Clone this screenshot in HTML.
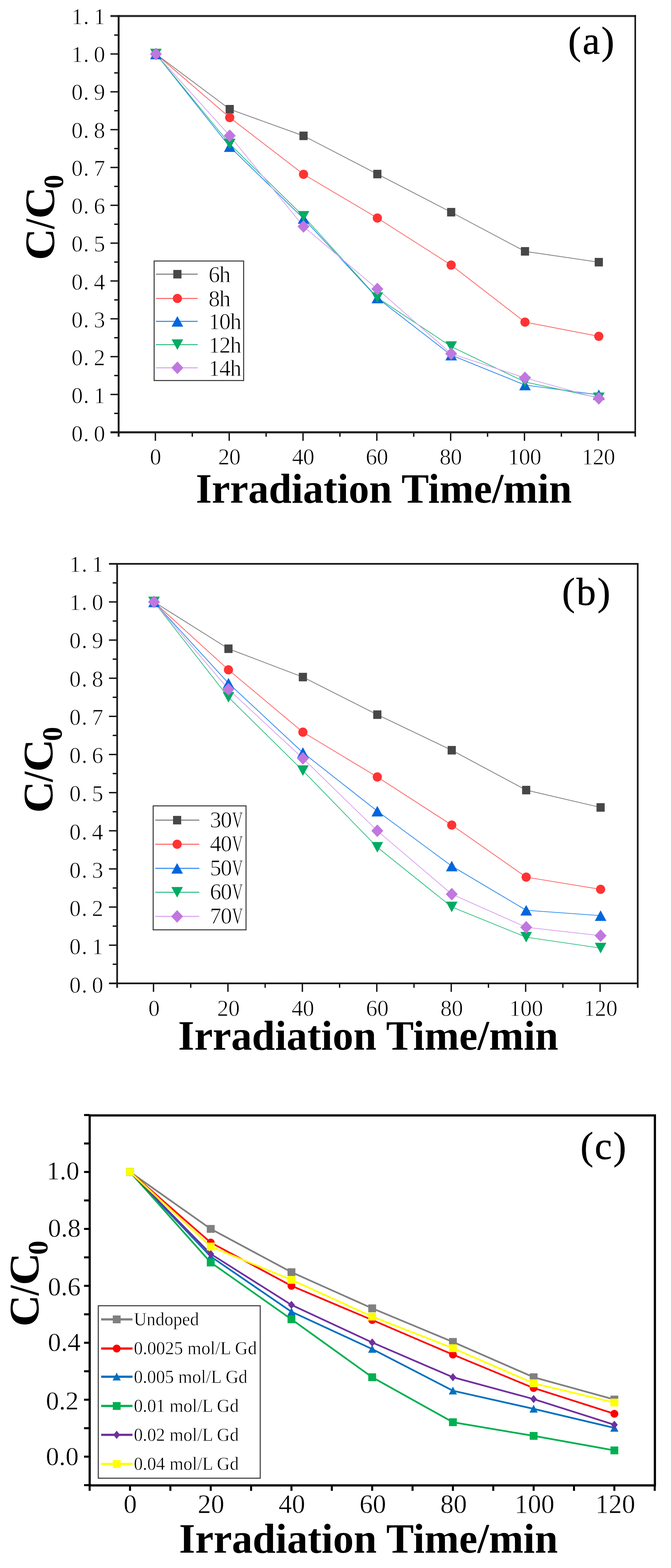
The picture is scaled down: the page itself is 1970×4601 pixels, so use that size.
<!DOCTYPE html>
<html><head><meta charset="utf-8"><title>Figure</title>
<style>html,body{margin:0;padding:0;background:#fff;}svg{display:block;}</style>
</head><body>
<svg width="1970" height="4601" viewBox="0 0 1970 4601" font-family="'Liberation Serif', 'Times New Roman', serif">
<rect width="1970" height="4601" fill="#fff"/>
<line x1="324.3" y1="1157.49" x2="348.3" y2="1157.49" stroke="#111" stroke-width="4"/>
<line x1="324.3" y1="1046.48" x2="348.3" y2="1046.48" stroke="#111" stroke-width="4"/>
<line x1="324.3" y1="935.47" x2="348.3" y2="935.47" stroke="#111" stroke-width="4"/>
<line x1="324.3" y1="824.46" x2="348.3" y2="824.46" stroke="#111" stroke-width="4"/>
<line x1="324.3" y1="713.45" x2="348.3" y2="713.45" stroke="#111" stroke-width="4"/>
<line x1="324.3" y1="602.44" x2="348.3" y2="602.44" stroke="#111" stroke-width="4"/>
<line x1="324.3" y1="491.43" x2="348.3" y2="491.43" stroke="#111" stroke-width="4"/>
<line x1="324.3" y1="380.42" x2="348.3" y2="380.42" stroke="#111" stroke-width="4"/>
<line x1="324.3" y1="269.41" x2="348.3" y2="269.41" stroke="#111" stroke-width="4"/>
<line x1="324.3" y1="158.4" x2="348.3" y2="158.4" stroke="#111" stroke-width="4"/>
<line x1="335.3" y1="1212.99" x2="348.3" y2="1212.99" stroke="#111" stroke-width="4"/>
<line x1="335.3" y1="1101.98" x2="348.3" y2="1101.98" stroke="#111" stroke-width="4"/>
<line x1="335.3" y1="990.98" x2="348.3" y2="990.98" stroke="#111" stroke-width="4"/>
<line x1="335.3" y1="879.97" x2="348.3" y2="879.97" stroke="#111" stroke-width="4"/>
<line x1="335.3" y1="768.96" x2="348.3" y2="768.96" stroke="#111" stroke-width="4"/>
<line x1="335.3" y1="657.95" x2="348.3" y2="657.95" stroke="#111" stroke-width="4"/>
<line x1="335.3" y1="546.94" x2="348.3" y2="546.94" stroke="#111" stroke-width="4"/>
<line x1="335.3" y1="435.93" x2="348.3" y2="435.93" stroke="#111" stroke-width="4"/>
<line x1="335.3" y1="324.91" x2="348.3" y2="324.91" stroke="#111" stroke-width="4"/>
<line x1="335.3" y1="213.9" x2="348.3" y2="213.9" stroke="#111" stroke-width="4"/>
<line x1="335.3" y1="102.89" x2="348.3" y2="102.89" stroke="#111" stroke-width="4"/>
<line x1="456.2" y1="1268.5" x2="456.2" y2="1293.5" stroke="#111" stroke-width="4"/>
<line x1="672.92" y1="1268.5" x2="672.92" y2="1293.5" stroke="#111" stroke-width="4"/>
<line x1="889.64" y1="1268.5" x2="889.64" y2="1293.5" stroke="#111" stroke-width="4"/>
<line x1="1106.36" y1="1268.5" x2="1106.36" y2="1293.5" stroke="#111" stroke-width="4"/>
<line x1="1323.08" y1="1268.5" x2="1323.08" y2="1293.5" stroke="#111" stroke-width="4"/>
<line x1="1539.8" y1="1268.5" x2="1539.8" y2="1293.5" stroke="#111" stroke-width="4"/>
<line x1="1756.52" y1="1268.5" x2="1756.52" y2="1293.5" stroke="#111" stroke-width="4"/>
<line x1="564.56" y1="1268.5" x2="564.56" y2="1281.5" stroke="#111" stroke-width="4"/>
<line x1="781.28" y1="1268.5" x2="781.28" y2="1281.5" stroke="#111" stroke-width="4"/>
<line x1="998" y1="1268.5" x2="998" y2="1281.5" stroke="#111" stroke-width="4"/>
<line x1="1214.72" y1="1268.5" x2="1214.72" y2="1281.5" stroke="#111" stroke-width="4"/>
<line x1="1431.44" y1="1268.5" x2="1431.44" y2="1281.5" stroke="#111" stroke-width="4"/>
<line x1="1648.16" y1="1268.5" x2="1648.16" y2="1281.5" stroke="#111" stroke-width="4"/>
<line x1="324.3" y1="47" x2="1867.25" y2="47" stroke="#2e2e2e" stroke-width="6"/>
<line x1="324.3" y1="1268.5" x2="1865" y2="1268.5" stroke="#1e1e1e" stroke-width="6"/>
<line x1="348.3" y1="44" x2="348.3" y2="1281.5" stroke="#1a1a1a" stroke-width="5.5"/>
<line x1="1865" y1="44" x2="1865" y2="1281.5" stroke="#111" stroke-width="4.5"/>
<text x="226.5 253 292" y="1294.5" font-size="67" font-weight="normal" text-anchor="middle" fill="#000" stroke="#fff" stroke-width="1.2">0.0</text>
<text x="226.5 253 292" y="1183.25" font-size="67" font-weight="normal" text-anchor="middle" fill="#000" stroke="#fff" stroke-width="1.2">0.1</text>
<text x="226.5 253 292" y="1072" font-size="67" font-weight="normal" text-anchor="middle" fill="#000" stroke="#fff" stroke-width="1.2">0.2</text>
<text x="226.5 253 292" y="960.75" font-size="67" font-weight="normal" text-anchor="middle" fill="#000" stroke="#fff" stroke-width="1.2">0.3</text>
<text x="226.5 253 292" y="849.5" font-size="67" font-weight="normal" text-anchor="middle" fill="#000" stroke="#fff" stroke-width="1.2">0.4</text>
<text x="226.5 253 292" y="738.25" font-size="67" font-weight="normal" text-anchor="middle" fill="#000" stroke="#fff" stroke-width="1.2">0.5</text>
<text x="226.5 253 292" y="627" font-size="67" font-weight="normal" text-anchor="middle" fill="#000" stroke="#fff" stroke-width="1.2">0.6</text>
<text x="226.5 253 292" y="515.75" font-size="67" font-weight="normal" text-anchor="middle" fill="#000" stroke="#fff" stroke-width="1.2">0.7</text>
<text x="226.5 253 292" y="404.5" font-size="67" font-weight="normal" text-anchor="middle" fill="#000" stroke="#fff" stroke-width="1.2">0.8</text>
<text x="226.5 253 292" y="293.25" font-size="67" font-weight="normal" text-anchor="middle" fill="#000" stroke="#fff" stroke-width="1.2">0.9</text>
<text x="226.5 253 292" y="182" font-size="67" font-weight="normal" text-anchor="middle" fill="#000" stroke="#fff" stroke-width="1.2">1.0</text>
<text x="226.5 253 292" y="70.75" font-size="67" font-weight="normal" text-anchor="middle" fill="#000" stroke="#fff" stroke-width="1.2">1.1</text>
<text x="456.7" y="1363" font-size="67" font-weight="normal" text-anchor="middle" fill="#000" stroke="#fff" stroke-width="1.2">0</text>
<text x="657.17 689.67" y="1363" font-size="67" font-weight="normal" text-anchor="middle" fill="#000" stroke="#fff" stroke-width="1.2">20</text>
<text x="873.89 906.39" y="1363" font-size="67" font-weight="normal" text-anchor="middle" fill="#000" stroke="#fff" stroke-width="1.2">40</text>
<text x="1090.61 1123.11" y="1363" font-size="67" font-weight="normal" text-anchor="middle" fill="#000" stroke="#fff" stroke-width="1.2">60</text>
<text x="1307.33 1339.83" y="1363" font-size="67" font-weight="normal" text-anchor="middle" fill="#000" stroke="#fff" stroke-width="1.2">80</text>
<text x="1507.8 1540.3 1572.8" y="1363" font-size="67" font-weight="normal" text-anchor="middle" fill="#000" stroke="#fff" stroke-width="1.2">100</text>
<text x="1724.52 1757.02 1789.52" y="1363" font-size="67" font-weight="normal" text-anchor="middle" fill="#000" stroke="#fff" stroke-width="1.2">120</text>
<polyline points="457.7,158.4 674.42,320.47 891.14,398.63 1107.86,510.75 1324.58,622.64 1541.3,737.54 1758.02,769.29" fill="none" stroke="#7d7d7d" stroke-width="2.2" stroke-linejoin="round"/>
<polyline points="457.7,158.4 674.42,344.9 891.14,511.41 1107.86,639.63 1324.58,777.84 1541.3,945.13 1758.02,986.87" fill="none" stroke="#ff6262" stroke-width="2.2" stroke-linejoin="round"/>
<polyline points="457.7,158.4 674.42,430.37 891.14,641.29 1107.86,874.41 1324.58,1042.04 1541.3,1129.74 1758.02,1158.6" fill="none" stroke="#2a88ee" stroke-width="2.2" stroke-linejoin="round"/>
<polyline points="457.7,158.4 674.42,422.6 891.14,634.63 1107.86,873.3 1324.58,1016.95 1541.3,1120.86 1758.02,1167.15" fill="none" stroke="#2fbf80" stroke-width="2.2" stroke-linejoin="round"/>
<polyline points="457.7,158.4 674.42,398.18 891.14,664.61 1107.86,848.11 1324.58,1037.82 1541.3,1108.76 1758.02,1168.92" fill="none" stroke="#d9a2ee" stroke-width="2.2" stroke-linejoin="round"/>
<rect x="445.7" y="145.9" width="24" height="25" fill="#474747"/>
<rect x="662.42" y="307.97" width="24" height="25" fill="#474747"/>
<rect x="879.14" y="386.13" width="24" height="25" fill="#474747"/>
<rect x="1095.86" y="498.25" width="24" height="25" fill="#474747"/>
<rect x="1312.58" y="610.14" width="24" height="25" fill="#474747"/>
<rect x="1529.3" y="725.04" width="24" height="25" fill="#474747"/>
<rect x="1746.02" y="756.79" width="24" height="25" fill="#474747"/>
<circle cx="457.7" cy="158.4" r="13.5" fill="#ff3333"/>
<circle cx="674.42" cy="344.9" r="13.5" fill="#ff3333"/>
<circle cx="891.14" cy="511.41" r="13.5" fill="#ff3333"/>
<circle cx="1107.86" cy="639.63" r="13.5" fill="#ff3333"/>
<circle cx="1324.58" cy="777.84" r="13.5" fill="#ff3333"/>
<circle cx="1541.3" cy="945.13" r="13.5" fill="#ff3333"/>
<circle cx="1758.02" cy="986.87" r="13.5" fill="#ff3333"/>
<polygon points="457.7,142.9 474.7,173.9 440.7,173.9" fill="#0066dd"/>
<polygon points="674.42,414.87 691.42,445.87 657.42,445.87" fill="#0066dd"/>
<polygon points="891.14,625.79 908.14,656.79 874.14,656.79" fill="#0066dd"/>
<polygon points="1107.86,858.91 1124.86,889.91 1090.86,889.91" fill="#0066dd"/>
<polygon points="1324.58,1026.54 1341.58,1057.54 1307.58,1057.54" fill="#0066dd"/>
<polygon points="1541.3,1114.24 1558.3,1145.24 1524.3,1145.24" fill="#0066dd"/>
<polygon points="1758.02,1143.1 1775.02,1174.1 1741.02,1174.1" fill="#0066dd"/>
<polygon points="440.7,142.9 474.7,142.9 457.7,173.9" fill="#00ab63"/>
<polygon points="657.42,407.1 691.42,407.1 674.42,438.1" fill="#00ab63"/>
<polygon points="874.14,619.13 908.14,619.13 891.14,650.13" fill="#00ab63"/>
<polygon points="1090.86,857.8 1124.86,857.8 1107.86,888.8" fill="#00ab63"/>
<polygon points="1307.58,1001.45 1341.58,1001.45 1324.58,1032.45" fill="#00ab63"/>
<polygon points="1524.3,1105.36 1558.3,1105.36 1541.3,1136.36" fill="#00ab63"/>
<polygon points="1741.02,1151.65 1775.02,1151.65 1758.02,1182.65" fill="#00ab63"/>
<polygon points="457.7,139.9 475.2,158.4 457.7,176.9 440.2,158.4" fill="#c077e0"/>
<polygon points="674.42,379.68 691.92,398.18 674.42,416.68 656.92,398.18" fill="#c077e0"/>
<polygon points="891.14,646.11 908.64,664.61 891.14,683.11 873.64,664.61" fill="#c077e0"/>
<polygon points="1107.86,829.61 1125.36,848.11 1107.86,866.61 1090.36,848.11" fill="#c077e0"/>
<polygon points="1324.58,1019.32 1342.08,1037.82 1324.58,1056.32 1307.08,1037.82" fill="#c077e0"/>
<polygon points="1541.3,1090.26 1558.8,1108.76 1541.3,1127.26 1523.8,1108.76" fill="#c077e0"/>
<polygon points="1758.02,1150.42 1775.52,1168.92 1758.02,1187.42 1740.52,1168.92" fill="#c077e0"/>
<rect x="452.5" y="765.9" width="262.8" height="350.7" fill="#fff" stroke="#3a3a3a" stroke-width="3"/>
<line x1="458" y1="804.6" x2="580.4" y2="804.6" stroke="#7d7d7d" stroke-width="3"/>
<rect x="508.8" y="792.1" width="24" height="25" fill="#474747"/>
<text x="629 660.6" y="828.1" font-size="67" font-weight="normal" text-anchor="middle" fill="#000" stroke="#fff" stroke-width="1.2">6h</text>
<line x1="458" y1="875.7" x2="580.4" y2="875.7" stroke="#ff6262" stroke-width="3"/>
<circle cx="520.8" cy="875.7" r="13.5" fill="#ff3333"/>
<text x="629 660.6" y="899.2" font-size="67" font-weight="normal" text-anchor="middle" fill="#000" stroke="#fff" stroke-width="1.2">8h</text>
<line x1="458" y1="942.9" x2="580.4" y2="942.9" stroke="#2a88ee" stroke-width="3"/>
<polygon points="520.8,927.4 537.8,958.4 503.8,958.4" fill="#0066dd"/>
<text x="629 660.6 692.2" y="966.4" font-size="67" font-weight="normal" text-anchor="middle" fill="#000" stroke="#fff" stroke-width="1.2">10h</text>
<line x1="458" y1="1011.2" x2="580.4" y2="1011.2" stroke="#2fbf80" stroke-width="3"/>
<polygon points="503.8,995.7 537.8,995.7 520.8,1026.7" fill="#00ab63"/>
<text x="629 660.6 692.2" y="1034.7" font-size="67" font-weight="normal" text-anchor="middle" fill="#000" stroke="#fff" stroke-width="1.2">12h</text>
<line x1="458" y1="1079.2" x2="580.4" y2="1079.2" stroke="#d9a2ee" stroke-width="3"/>
<polygon points="520.8,1060.7 538.3,1079.2 520.8,1097.7 503.3,1079.2" fill="#c077e0"/>
<text x="629 660.6 692.2" y="1102.7" font-size="67" font-weight="normal" text-anchor="middle" fill="#000" stroke="#fff" stroke-width="1.2">14h</text>
<text x="1668" y="158.2" font-size="114" letter-spacing="4.5" stroke="#000" stroke-width="0.9">(a)</text>
<text transform="translate(159.4,763.51) rotate(-90) scale(1.0510,1)" font-size="123" font-weight="bold">C</text>
<text transform="translate(159.4,671.86) rotate(-90) scale(0.8653,1)" font-size="123" font-weight="bold">/</text>
<text transform="translate(159.4,642.08) rotate(-90) scale(1.0619,1)" font-size="123" font-weight="bold">C</text>
<text transform="translate(185.2,553.6) rotate(-90) scale(0.9927,1)" font-size="82" font-weight="bold">0</text>
<text x="574.9" y="1475" font-size="122" font-weight="bold" textLength="1104" lengthAdjust="spacingAndGlyphs">Irradiation Time/min</text>
<line x1="319.9" y1="2773.49" x2="343.9" y2="2773.49" stroke="#111" stroke-width="4"/>
<line x1="319.9" y1="2661.58" x2="343.9" y2="2661.58" stroke="#111" stroke-width="4"/>
<line x1="319.9" y1="2549.67" x2="343.9" y2="2549.67" stroke="#111" stroke-width="4"/>
<line x1="319.9" y1="2437.76" x2="343.9" y2="2437.76" stroke="#111" stroke-width="4"/>
<line x1="319.9" y1="2325.85" x2="343.9" y2="2325.85" stroke="#111" stroke-width="4"/>
<line x1="319.9" y1="2213.94" x2="343.9" y2="2213.94" stroke="#111" stroke-width="4"/>
<line x1="319.9" y1="2102.03" x2="343.9" y2="2102.03" stroke="#111" stroke-width="4"/>
<line x1="319.9" y1="1990.12" x2="343.9" y2="1990.12" stroke="#111" stroke-width="4"/>
<line x1="319.9" y1="1878.21" x2="343.9" y2="1878.21" stroke="#111" stroke-width="4"/>
<line x1="319.9" y1="1766.3" x2="343.9" y2="1766.3" stroke="#111" stroke-width="4"/>
<line x1="330.9" y1="2829.45" x2="343.9" y2="2829.45" stroke="#111" stroke-width="4"/>
<line x1="330.9" y1="2717.53" x2="343.9" y2="2717.53" stroke="#111" stroke-width="4"/>
<line x1="330.9" y1="2605.62" x2="343.9" y2="2605.62" stroke="#111" stroke-width="4"/>
<line x1="330.9" y1="2493.72" x2="343.9" y2="2493.72" stroke="#111" stroke-width="4"/>
<line x1="330.9" y1="2381.81" x2="343.9" y2="2381.81" stroke="#111" stroke-width="4"/>
<line x1="330.9" y1="2269.89" x2="343.9" y2="2269.89" stroke="#111" stroke-width="4"/>
<line x1="330.9" y1="2157.99" x2="343.9" y2="2157.99" stroke="#111" stroke-width="4"/>
<line x1="330.9" y1="2046.08" x2="343.9" y2="2046.08" stroke="#111" stroke-width="4"/>
<line x1="330.9" y1="1934.16" x2="343.9" y2="1934.16" stroke="#111" stroke-width="4"/>
<line x1="330.9" y1="1822.26" x2="343.9" y2="1822.26" stroke="#111" stroke-width="4"/>
<line x1="330.9" y1="1710.35" x2="343.9" y2="1710.35" stroke="#111" stroke-width="4"/>
<line x1="450.7" y1="2885.4" x2="450.7" y2="2910.4" stroke="#111" stroke-width="4"/>
<line x1="669.22" y1="2885.4" x2="669.22" y2="2910.4" stroke="#111" stroke-width="4"/>
<line x1="887.74" y1="2885.4" x2="887.74" y2="2910.4" stroke="#111" stroke-width="4"/>
<line x1="1106.26" y1="2885.4" x2="1106.26" y2="2910.4" stroke="#111" stroke-width="4"/>
<line x1="1324.78" y1="2885.4" x2="1324.78" y2="2910.4" stroke="#111" stroke-width="4"/>
<line x1="1543.3" y1="2885.4" x2="1543.3" y2="2910.4" stroke="#111" stroke-width="4"/>
<line x1="1761.82" y1="2885.4" x2="1761.82" y2="2910.4" stroke="#111" stroke-width="4"/>
<line x1="559.96" y1="2885.4" x2="559.96" y2="2898.4" stroke="#111" stroke-width="4"/>
<line x1="778.48" y1="2885.4" x2="778.48" y2="2898.4" stroke="#111" stroke-width="4"/>
<line x1="997" y1="2885.4" x2="997" y2="2898.4" stroke="#111" stroke-width="4"/>
<line x1="1215.52" y1="2885.4" x2="1215.52" y2="2898.4" stroke="#111" stroke-width="4"/>
<line x1="1434.04" y1="2885.4" x2="1434.04" y2="2898.4" stroke="#111" stroke-width="4"/>
<line x1="1652.56" y1="2885.4" x2="1652.56" y2="2898.4" stroke="#111" stroke-width="4"/>
<line x1="319.9" y1="1654.6" x2="1874.8" y2="1654.6" stroke="#1a1a1a" stroke-width="5"/>
<line x1="319.9" y1="2885.4" x2="1872.3" y2="2885.4" stroke="#1a1a1a" stroke-width="5"/>
<line x1="343.9" y1="1652.1" x2="343.9" y2="2898.4" stroke="#1a1a1a" stroke-width="5"/>
<line x1="1872.3" y1="1652.1" x2="1872.3" y2="2898.4" stroke="#1a1a1a" stroke-width="5"/>
<text x="220.6 247.8 286.5" y="2912.6" font-size="67" font-weight="normal" text-anchor="middle" fill="#000" stroke="#fff" stroke-width="1.2">0.0</text>
<text x="220.6 247.8 286.5" y="2800.34" font-size="67" font-weight="normal" text-anchor="middle" fill="#000" stroke="#fff" stroke-width="1.2">0.1</text>
<text x="220.6 247.8 286.5" y="2688.08" font-size="67" font-weight="normal" text-anchor="middle" fill="#000" stroke="#fff" stroke-width="1.2">0.2</text>
<text x="220.6 247.8 286.5" y="2575.82" font-size="67" font-weight="normal" text-anchor="middle" fill="#000" stroke="#fff" stroke-width="1.2">0.3</text>
<text x="220.6 247.8 286.5" y="2463.56" font-size="67" font-weight="normal" text-anchor="middle" fill="#000" stroke="#fff" stroke-width="1.2">0.4</text>
<text x="220.6 247.8 286.5" y="2351.3" font-size="67" font-weight="normal" text-anchor="middle" fill="#000" stroke="#fff" stroke-width="1.2">0.5</text>
<text x="220.6 247.8 286.5" y="2239.04" font-size="67" font-weight="normal" text-anchor="middle" fill="#000" stroke="#fff" stroke-width="1.2">0.6</text>
<text x="220.6 247.8 286.5" y="2126.78" font-size="67" font-weight="normal" text-anchor="middle" fill="#000" stroke="#fff" stroke-width="1.2">0.7</text>
<text x="220.6 247.8 286.5" y="2014.52" font-size="67" font-weight="normal" text-anchor="middle" fill="#000" stroke="#fff" stroke-width="1.2">0.8</text>
<text x="220.6 247.8 286.5" y="1902.26" font-size="67" font-weight="normal" text-anchor="middle" fill="#000" stroke="#fff" stroke-width="1.2">0.9</text>
<text x="220.6 247.8 286.5" y="1790" font-size="67" font-weight="normal" text-anchor="middle" fill="#000" stroke="#fff" stroke-width="1.2">1.0</text>
<text x="220.6 247.8 286.5" y="1677.74" font-size="67" font-weight="normal" text-anchor="middle" fill="#000" stroke="#fff" stroke-width="1.2">1.1</text>
<text x="452.2" y="2980.6" font-size="67" font-weight="normal" text-anchor="middle" fill="#000" stroke="#fff" stroke-width="1.2">0</text>
<text x="654.22 687.22" y="2980.6" font-size="67" font-weight="normal" text-anchor="middle" fill="#000" stroke="#fff" stroke-width="1.2">20</text>
<text x="872.74 905.74" y="2980.6" font-size="67" font-weight="normal" text-anchor="middle" fill="#000" stroke="#fff" stroke-width="1.2">40</text>
<text x="1091.26 1124.26" y="2980.6" font-size="67" font-weight="normal" text-anchor="middle" fill="#000" stroke="#fff" stroke-width="1.2">60</text>
<text x="1309.78 1342.78" y="2980.6" font-size="67" font-weight="normal" text-anchor="middle" fill="#000" stroke="#fff" stroke-width="1.2">80</text>
<text x="1511.8 1544.8 1577.8" y="2980.6" font-size="67" font-weight="normal" text-anchor="middle" fill="#000" stroke="#fff" stroke-width="1.2">100</text>
<text x="1730.32 1763.32 1796.32" y="2980.6" font-size="67" font-weight="normal" text-anchor="middle" fill="#000" stroke="#fff" stroke-width="1.2">120</text>
<polyline points="452.2,1766.3 670.72,1903.61 889.24,1986.76 1107.76,2096.99 1326.28,2201.41 1544.8,2318.35 1763.32,2369.27" fill="none" stroke="#7d7d7d" stroke-width="2.2" stroke-linejoin="round"/>
<polyline points="452.2,1766.3 670.72,1965.5 889.24,2148.36 1107.76,2279.85 1326.28,2420.97 1544.8,2573.73 1763.32,2609.54" fill="none" stroke="#ff6262" stroke-width="2.2" stroke-linejoin="round"/>
<polyline points="452.2,1766.3 670.72,2004.67 889.24,2208.34 1107.76,2380.13 1326.28,2541.28 1544.8,2670.98 1763.32,2686.76" fill="none" stroke="#2a88ee" stroke-width="2.2" stroke-linejoin="round"/>
<polyline points="452.2,1766.3 670.72,2046.08 889.24,2261.28 1107.76,2486.22 1326.28,2661.24 1544.8,2749.99 1763.32,2782" fill="none" stroke="#2fbf80" stroke-width="2.2" stroke-linejoin="round"/>
<polyline points="452.2,1766.3 670.72,2022.57 889.24,2225.13 1107.76,2437.76 1326.28,2623.64 1544.8,2720.89 1763.32,2745.62" fill="none" stroke="#d9a2ee" stroke-width="2.2" stroke-linejoin="round"/>
<rect x="440.2" y="1753.8" width="24" height="25" fill="#474747"/>
<rect x="658.72" y="1891.11" width="24" height="25" fill="#474747"/>
<rect x="877.24" y="1974.26" width="24" height="25" fill="#474747"/>
<rect x="1095.76" y="2084.49" width="24" height="25" fill="#474747"/>
<rect x="1314.28" y="2188.91" width="24" height="25" fill="#474747"/>
<rect x="1532.8" y="2305.85" width="24" height="25" fill="#474747"/>
<rect x="1751.32" y="2356.77" width="24" height="25" fill="#474747"/>
<circle cx="452.2" cy="1766.3" r="13.5" fill="#ff3333"/>
<circle cx="670.72" cy="1965.5" r="13.5" fill="#ff3333"/>
<circle cx="889.24" cy="2148.36" r="13.5" fill="#ff3333"/>
<circle cx="1107.76" cy="2279.85" r="13.5" fill="#ff3333"/>
<circle cx="1326.28" cy="2420.97" r="13.5" fill="#ff3333"/>
<circle cx="1544.8" cy="2573.73" r="13.5" fill="#ff3333"/>
<circle cx="1763.32" cy="2609.54" r="13.5" fill="#ff3333"/>
<polygon points="452.2,1750.8 469.2,1781.8 435.2,1781.8" fill="#0066dd"/>
<polygon points="670.72,1989.17 687.72,2020.17 653.72,2020.17" fill="#0066dd"/>
<polygon points="889.24,2192.84 906.24,2223.84 872.24,2223.84" fill="#0066dd"/>
<polygon points="1107.76,2364.63 1124.76,2395.63 1090.76,2395.63" fill="#0066dd"/>
<polygon points="1326.28,2525.78 1343.28,2556.78 1309.28,2556.78" fill="#0066dd"/>
<polygon points="1544.8,2655.48 1561.8,2686.48 1527.8,2686.48" fill="#0066dd"/>
<polygon points="1763.32,2671.26 1780.32,2702.26 1746.32,2702.26" fill="#0066dd"/>
<polygon points="435.2,1750.8 469.2,1750.8 452.2,1781.8" fill="#00ab63"/>
<polygon points="653.72,2030.58 687.72,2030.58 670.72,2061.58" fill="#00ab63"/>
<polygon points="872.24,2245.78 906.24,2245.78 889.24,2276.78" fill="#00ab63"/>
<polygon points="1090.76,2470.72 1124.76,2470.72 1107.76,2501.72" fill="#00ab63"/>
<polygon points="1309.28,2645.74 1343.28,2645.74 1326.28,2676.74" fill="#00ab63"/>
<polygon points="1527.8,2734.49 1561.8,2734.49 1544.8,2765.49" fill="#00ab63"/>
<polygon points="1746.32,2766.5 1780.32,2766.5 1763.32,2797.5" fill="#00ab63"/>
<polygon points="452.2,1747.8 469.7,1766.3 452.2,1784.8 434.7,1766.3" fill="#c077e0"/>
<polygon points="670.72,2004.07 688.22,2022.57 670.72,2041.07 653.22,2022.57" fill="#c077e0"/>
<polygon points="889.24,2206.63 906.74,2225.13 889.24,2243.63 871.74,2225.13" fill="#c077e0"/>
<polygon points="1107.76,2419.26 1125.26,2437.76 1107.76,2456.26 1090.26,2437.76" fill="#c077e0"/>
<polygon points="1326.28,2605.14 1343.78,2623.64 1326.28,2642.14 1308.78,2623.64" fill="#c077e0"/>
<polygon points="1544.8,2702.39 1562.3,2720.89 1544.8,2739.39 1527.3,2720.89" fill="#c077e0"/>
<polygon points="1763.32,2727.12 1780.82,2745.62 1763.32,2764.12 1745.82,2745.62" fill="#c077e0"/>
<rect x="449.7" y="2364.7" width="272.6" height="363.7" fill="#fff" stroke="#3a3a3a" stroke-width="3"/>
<line x1="455.9" y1="2406.6" x2="585.1" y2="2406.6" stroke="#7d7d7d" stroke-width="3"/>
<rect x="508" y="2394.1" width="24" height="25" fill="#474747"/>
<text x="633 664.6" y="2427.6" font-size="67" font-weight="normal" text-anchor="middle" fill="#000" stroke="#fff" stroke-width="1.2">30</text>
<text transform="translate(697.2,2427.6) scale(0.66,1)" font-size="67" text-anchor="middle" stroke="#fff" stroke-width="1.2">V</text>
<line x1="455.9" y1="2477.2" x2="585.1" y2="2477.2" stroke="#ff6262" stroke-width="3"/>
<circle cx="520" cy="2477.2" r="13.5" fill="#ff3333"/>
<text x="633 664.6" y="2498.2" font-size="67" font-weight="normal" text-anchor="middle" fill="#000" stroke="#fff" stroke-width="1.2">40</text>
<text transform="translate(697.2,2498.2) scale(0.66,1)" font-size="67" text-anchor="middle" stroke="#fff" stroke-width="1.2">V</text>
<line x1="455.9" y1="2548" x2="585.1" y2="2548" stroke="#2a88ee" stroke-width="3"/>
<polygon points="520,2532.5 537,2563.5 503,2563.5" fill="#0066dd"/>
<text x="633 664.6" y="2569" font-size="67" font-weight="normal" text-anchor="middle" fill="#000" stroke="#fff" stroke-width="1.2">50</text>
<text transform="translate(697.2,2569) scale(0.66,1)" font-size="67" text-anchor="middle" stroke="#fff" stroke-width="1.2">V</text>
<line x1="455.9" y1="2618.2" x2="585.1" y2="2618.2" stroke="#2fbf80" stroke-width="3"/>
<polygon points="503,2602.7 537,2602.7 520,2633.7" fill="#00ab63"/>
<text x="633 664.6" y="2639.2" font-size="67" font-weight="normal" text-anchor="middle" fill="#000" stroke="#fff" stroke-width="1.2">60</text>
<text transform="translate(697.2,2639.2) scale(0.66,1)" font-size="67" text-anchor="middle" stroke="#fff" stroke-width="1.2">V</text>
<line x1="455.9" y1="2689.1" x2="585.1" y2="2689.1" stroke="#d9a2ee" stroke-width="3"/>
<polygon points="520,2670.6 537.5,2689.1 520,2707.6 502.5,2689.1" fill="#c077e0"/>
<text x="633 664.6" y="2710.1" font-size="67" font-weight="normal" text-anchor="middle" fill="#000" stroke="#fff" stroke-width="1.2">70</text>
<text transform="translate(697.2,2710.1) scale(0.66,1)" font-size="67" text-anchor="middle" stroke="#fff" stroke-width="1.2">V</text>
<text x="1650" y="1774.6" font-size="114" letter-spacing="4.5" stroke="#000" stroke-width="0.9">(b)</text>
<text transform="translate(153.9,2385.3) rotate(-90) scale(1.0497,1)" font-size="123" font-weight="bold">C</text>
<text transform="translate(153.9,2294.53) rotate(-90) scale(0.8926,1)" font-size="123" font-weight="bold">/</text>
<text transform="translate(153.9,2264.92) rotate(-90) scale(1.0864,1)" font-size="123" font-weight="bold">C</text>
<text transform="translate(180.6,2174.58) rotate(-90) scale(1.0186,1)" font-size="82" font-weight="bold">0</text>
<text x="523.1" y="3079.5" font-size="122" font-weight="bold" textLength="1116" lengthAdjust="spacingAndGlyphs">Irradiation Time/min</text>
<line x1="246.8" y1="4357.84" x2="263.3" y2="4357.84" stroke="#000" stroke-width="6"/>
<line x1="246.8" y1="4274.3" x2="263.3" y2="4274.3" stroke="#000" stroke-width="6"/>
<line x1="246.8" y1="4190.76" x2="263.3" y2="4190.76" stroke="#000" stroke-width="6"/>
<line x1="246.8" y1="4107.22" x2="263.3" y2="4107.22" stroke="#000" stroke-width="6"/>
<line x1="246.8" y1="4023.68" x2="263.3" y2="4023.68" stroke="#000" stroke-width="6"/>
<line x1="246.8" y1="3940.14" x2="263.3" y2="3940.14" stroke="#000" stroke-width="6"/>
<line x1="246.8" y1="3856.6" x2="263.3" y2="3856.6" stroke="#000" stroke-width="6"/>
<line x1="246.8" y1="3773.06" x2="263.3" y2="3773.06" stroke="#000" stroke-width="6"/>
<line x1="246.8" y1="3689.52" x2="263.3" y2="3689.52" stroke="#000" stroke-width="6"/>
<line x1="246.8" y1="3605.98" x2="263.3" y2="3605.98" stroke="#000" stroke-width="6"/>
<line x1="246.8" y1="3522.44" x2="263.3" y2="3522.44" stroke="#000" stroke-width="6"/>
<line x1="246.8" y1="3438.9" x2="263.3" y2="3438.9" stroke="#000" stroke-width="6"/>
<line x1="246.8" y1="3355.36" x2="263.3" y2="3355.36" stroke="#000" stroke-width="6"/>
<line x1="246.8" y1="3271.82" x2="263.3" y2="3271.82" stroke="#000" stroke-width="6"/>
<line x1="263.2" y1="4358.6" x2="263.2" y2="4374.6" stroke="#000" stroke-width="6"/>
<line x1="381.7" y1="4358.6" x2="381.7" y2="4374.6" stroke="#000" stroke-width="6"/>
<line x1="500.2" y1="4358.6" x2="500.2" y2="4374.6" stroke="#000" stroke-width="6"/>
<line x1="618.7" y1="4358.6" x2="618.7" y2="4374.6" stroke="#000" stroke-width="6"/>
<line x1="737.2" y1="4358.6" x2="737.2" y2="4374.6" stroke="#000" stroke-width="6"/>
<line x1="855.7" y1="4358.6" x2="855.7" y2="4374.6" stroke="#000" stroke-width="6"/>
<line x1="974.2" y1="4358.6" x2="974.2" y2="4374.6" stroke="#000" stroke-width="6"/>
<line x1="1092.7" y1="4358.6" x2="1092.7" y2="4374.6" stroke="#000" stroke-width="6"/>
<line x1="1211.2" y1="4358.6" x2="1211.2" y2="4374.6" stroke="#000" stroke-width="6"/>
<line x1="1329.7" y1="4358.6" x2="1329.7" y2="4374.6" stroke="#000" stroke-width="6"/>
<line x1="1448.2" y1="4358.6" x2="1448.2" y2="4374.6" stroke="#000" stroke-width="6"/>
<line x1="1566.7" y1="4358.6" x2="1566.7" y2="4374.6" stroke="#000" stroke-width="6"/>
<line x1="1685.2" y1="4358.6" x2="1685.2" y2="4374.6" stroke="#000" stroke-width="6"/>
<line x1="1803.7" y1="4358.6" x2="1803.7" y2="4374.6" stroke="#000" stroke-width="6"/>
<line x1="1922.2" y1="4358.6" x2="1922.2" y2="4374.6" stroke="#000" stroke-width="6"/>
<rect x="263.3" y="3273" width="1659.4" height="1085.6" fill="none" stroke="#000" stroke-width="6.5"/>
<text x="134.7" y="4298.5" font-size="77" stroke="#fff" stroke-width="0.8">0.0</text>
<text x="134.7" y="4136.4" font-size="77" stroke="#fff" stroke-width="0.8">0.2</text>
<text x="140.4" y="3963.7" font-size="77" stroke="#fff" stroke-width="0.8">0.4</text>
<text x="140.4" y="3801" font-size="77" stroke="#fff" stroke-width="0.8">0.6</text>
<text x="140.7" y="3628.9" font-size="77" stroke="#fff" stroke-width="0.8">0.8</text>
<text x="136.7" y="3461" font-size="77" stroke="#fff" stroke-width="0.8">1.0</text>
<text x="382.2" y="4439" font-size="78" text-anchor="middle" stroke="#fff" stroke-width="0.8">0</text>
<text x="619.6" y="4439" font-size="78" text-anchor="middle" stroke="#fff" stroke-width="0.8">20</text>
<text x="857" y="4439" font-size="78" text-anchor="middle" stroke="#fff" stroke-width="0.8">40</text>
<text x="1094.4" y="4439" font-size="78" text-anchor="middle" stroke="#fff" stroke-width="0.8">60</text>
<text x="1331.8" y="4439" font-size="78" text-anchor="middle" stroke="#fff" stroke-width="0.8">80</text>
<text x="1569.2" y="4439" font-size="78" text-anchor="middle" stroke="#fff" stroke-width="0.8">100</text>
<text x="1806.6" y="4439" font-size="78" text-anchor="middle" stroke="#fff" stroke-width="0.8">120</text>
<polyline points="381.7,3438.9 618.7,3605.98 855.7,3732.96 1092.7,3839.06 1329.7,3937.63 1566.7,4041.22 1803.7,4106.64" fill="none" stroke="#808080" stroke-width="5" stroke-linejoin="round"/>
<rect x="370.2" y="3427.4" width="23" height="23" fill="#808080"/>
<rect x="607.2" y="3594.48" width="23" height="23" fill="#808080"/>
<rect x="844.2" y="3721.46" width="23" height="23" fill="#808080"/>
<rect x="1081.2" y="3827.56" width="23" height="23" fill="#808080"/>
<rect x="1318.2" y="3926.13" width="23" height="23" fill="#808080"/>
<rect x="1555.2" y="4029.72" width="23" height="23" fill="#808080"/>
<rect x="1792.2" y="4095.14" width="23" height="23" fill="#808080"/>
<polyline points="381.7,3438.9 618.7,3646.08 855.7,3773.06 1092.7,3873.31 1329.7,3974.81 1566.7,4072.97 1803.7,4148.49" fill="none" stroke="#ff0000" stroke-width="5" stroke-linejoin="round"/>
<circle cx="381.7" cy="3438.9" r="11.5" fill="#ff0000"/>
<circle cx="618.7" cy="3646.08" r="11.5" fill="#ff0000"/>
<circle cx="855.7" cy="3773.06" r="11.5" fill="#ff0000"/>
<circle cx="1092.7" cy="3873.31" r="11.5" fill="#ff0000"/>
<circle cx="1329.7" cy="3974.81" r="11.5" fill="#ff0000"/>
<circle cx="1566.7" cy="4072.97" r="11.5" fill="#ff0000"/>
<circle cx="1803.7" cy="4148.49" r="11.5" fill="#ff0000"/>
<polyline points="381.7,3438.9 618.7,3687.01 855.7,3849.08 1092.7,3958.52 1329.7,4080.82 1566.7,4133.95 1803.7,4189.92" fill="none" stroke="#0070c0" stroke-width="5" stroke-linejoin="round"/>
<polygon points="381.7,3426.9 393.7,3449.9 369.7,3449.9" fill="#0070c0"/>
<polygon points="618.7,3675.01 630.7,3698.01 606.7,3698.01" fill="#0070c0"/>
<polygon points="855.7,3837.08 867.7,3860.08 843.7,3860.08" fill="#0070c0"/>
<polygon points="1092.7,3946.52 1104.7,3969.52 1080.7,3969.52" fill="#0070c0"/>
<polygon points="1329.7,4068.82 1341.7,4091.82 1317.7,4091.82" fill="#0070c0"/>
<polygon points="1566.7,4121.95 1578.7,4144.95 1554.7,4144.95" fill="#0070c0"/>
<polygon points="1803.7,4177.92 1815.7,4200.92 1791.7,4200.92" fill="#0070c0"/>
<polyline points="381.7,3438.9 618.7,3704.56 855.7,3871.22 1092.7,4041.22 1329.7,4173.22 1566.7,4213.32 1803.7,4255.92" fill="none" stroke="#00b050" stroke-width="5" stroke-linejoin="round"/>
<rect x="370.2" y="3427.4" width="23" height="23" fill="#00b050"/>
<rect x="607.2" y="3693.06" width="23" height="23" fill="#00b050"/>
<rect x="844.2" y="3859.72" width="23" height="23" fill="#00b050"/>
<rect x="1081.2" y="4029.72" width="23" height="23" fill="#00b050"/>
<rect x="1318.2" y="4161.72" width="23" height="23" fill="#00b050"/>
<rect x="1555.2" y="4201.82" width="23" height="23" fill="#00b050"/>
<rect x="1792.2" y="4244.42" width="23" height="23" fill="#00b050"/>
<polyline points="381.7,3438.9 618.7,3679.5 855.7,3829.03 1092.7,3939.3 1329.7,4041.22 1566.7,4105.3 1803.7,4180.74" fill="none" stroke="#7030a0" stroke-width="5" stroke-linejoin="round"/>
<polygon points="381.7,3426.9 391.7,3438.9 381.7,3450.9 371.7,3438.9" fill="#7030a0"/>
<polygon points="618.7,3667.5 628.7,3679.5 618.7,3691.5 608.7,3679.5" fill="#7030a0"/>
<polygon points="855.7,3817.03 865.7,3829.03 855.7,3841.03 845.7,3829.03" fill="#7030a0"/>
<polygon points="1092.7,3927.3 1102.7,3939.3 1092.7,3951.3 1082.7,3939.3" fill="#7030a0"/>
<polygon points="1329.7,4029.22 1339.7,4041.22 1329.7,4053.22 1319.7,4041.22" fill="#7030a0"/>
<polygon points="1566.7,4093.3 1576.7,4105.3 1566.7,4117.3 1556.7,4105.3" fill="#7030a0"/>
<polygon points="1803.7,4168.74 1813.7,4180.74 1803.7,4192.74 1793.7,4180.74" fill="#7030a0"/>
<polyline points="381.7,3438.9 618.7,3657.77 855.7,3755.52 1092.7,3863.28 1329.7,3956.01 1566.7,4059.02 1803.7,4115.57" fill="none" stroke="#ffff00" stroke-width="5" stroke-linejoin="round"/>
<rect x="370.2" y="3427.4" width="23" height="23" fill="#ffff00"/>
<rect x="607.2" y="3646.27" width="23" height="23" fill="#ffff00"/>
<rect x="844.2" y="3744.02" width="23" height="23" fill="#ffff00"/>
<rect x="1081.2" y="3851.78" width="23" height="23" fill="#ffff00"/>
<rect x="1318.2" y="3944.51" width="23" height="23" fill="#ffff00"/>
<rect x="1555.2" y="4047.52" width="23" height="23" fill="#ffff00"/>
<rect x="1792.2" y="4104.07" width="23" height="23" fill="#ffff00"/>
<rect x="288.5" y="3831.5" width="475.5" height="506" fill="#fff" stroke="#3a3a3a" stroke-width="3"/>
<line x1="297" y1="3871.5" x2="389" y2="3871.5" stroke="#808080" stroke-width="6.5"/>
<rect x="331.1" y="3860" width="23" height="23" fill="#808080"/>
<text x="392.9" y="3889" font-size="54" textLength="191.2" lengthAdjust="spacingAndGlyphs" stroke="#fff" stroke-width="0.8">Undoped</text>
<line x1="297" y1="3957" x2="389" y2="3957" stroke="#ff0000" stroke-width="6.5"/>
<circle cx="342.6" cy="3957" r="11.5" fill="#ff0000"/>
<text x="392.9" y="3973.5" font-size="54" textLength="361.1" lengthAdjust="spacingAndGlyphs" stroke="#fff" stroke-width="0.8">0.0025 mol/L Gd</text>
<line x1="297" y1="4039.8" x2="389" y2="4039.8" stroke="#0070c0" stroke-width="6.5"/>
<polygon points="342.6,4027.8 354.6,4050.8 330.6,4050.8" fill="#0070c0"/>
<text x="392.9" y="4058.3" font-size="54" textLength="333.4" lengthAdjust="spacingAndGlyphs" stroke="#fff" stroke-width="0.8">0.005 mol/L Gd</text>
<line x1="297" y1="4125.6" x2="389" y2="4125.6" stroke="#00b050" stroke-width="6.5"/>
<rect x="331.1" y="4114.1" width="23" height="23" fill="#00b050"/>
<text x="392.9" y="4143.2" font-size="54" textLength="308" lengthAdjust="spacingAndGlyphs" stroke="#fff" stroke-width="0.8">0.01 mol/L Gd</text>
<line x1="297" y1="4210.3" x2="389" y2="4210.3" stroke="#7030a0" stroke-width="6.5"/>
<polygon points="342.6,4198.3 352.6,4210.3 342.6,4222.3 332.6,4210.3" fill="#7030a0"/>
<text x="392.9" y="4228" font-size="54" textLength="308" lengthAdjust="spacingAndGlyphs" stroke="#fff" stroke-width="0.8">0.02 mol/L Gd</text>
<line x1="297" y1="4295.8" x2="389" y2="4295.8" stroke="#ffff00" stroke-width="6.5"/>
<rect x="331.1" y="4284.3" width="23" height="23" fill="#ffff00"/>
<text x="392.9" y="4313" font-size="54" textLength="308" lengthAdjust="spacingAndGlyphs" stroke="#fff" stroke-width="0.8">0.04 mol/L Gd</text>
<text x="1704" y="3401" font-size="114" letter-spacing="4" stroke="#000" stroke-width="0.9">(c)</text>
<text transform="translate(113,3892.8) rotate(-90) scale(1.0497,1)" font-size="123" font-weight="bold">C</text>
<text transform="translate(113,3801.16) rotate(-90) scale(0.8680,1)" font-size="123" font-weight="bold">/</text>
<text transform="translate(113,3771.45) rotate(-90) scale(1.0742,1)" font-size="123" font-weight="bold">C</text>
<text transform="translate(138.8,3682.08) rotate(-90) scale(1.0186,1)" font-size="82" font-weight="bold">0</text>
<text x="525.8" y="4556.4" font-size="123" font-weight="bold" textLength="1112" lengthAdjust="spacingAndGlyphs">Irradiation Time/min</text>
</svg>
</body></html>
